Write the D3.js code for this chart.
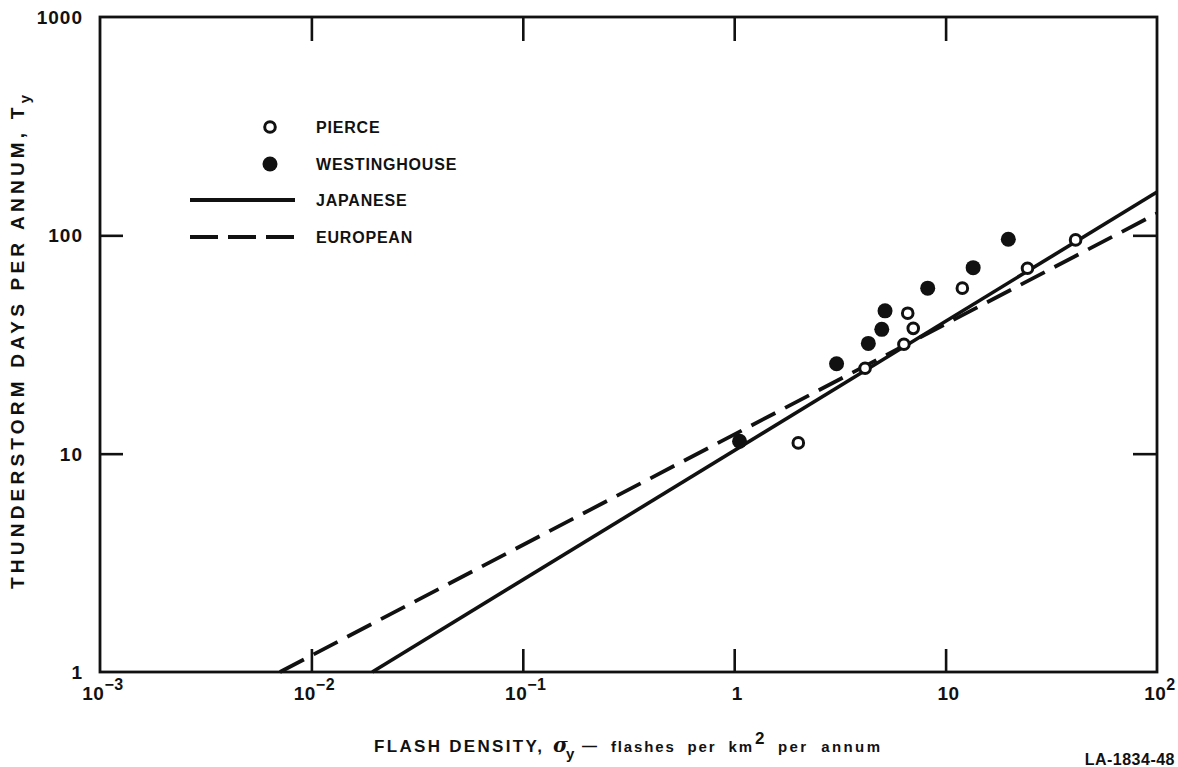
<!DOCTYPE html>
<html><head><meta charset="utf-8">
<script src="https://cdn.jsdelivr.net/npm/d3@7"></script>
<style>
html,body{margin:0;padding:0;background:#fff;}
svg{display:block;}
text{font-family:"Liberation Sans",Arial,Helvetica,sans-serif;font-weight:bold;fill:#111;}
</style></head>
<body>
<svg id="chart" width="1178" height="767"></svg>
<script>
// ---- data ----
const xTickValues = [1e-3, 1e-2, 1e-1, 1, 10, 100];
const xTickBase = ["10", "10", "10", "1", "10", "10"];
const xTickExp = ["\u22123", "\u22122", "\u22121", "", "", "2"];
const yTickValues = [1, 10, 100, 1000];
const yTickLabels = ["1", "10", "100", "1000"];
const innerXTicks = [1e-2, 1e-1, 1, 10];
const innerYTicks = [10, 100];

const pierceSigma = [4.16, 6.35, 7.03, 6.62, 12.0, 24.4, 41.2, 2.01];
const pierceT     = [24.6, 31.7, 37.5, 44.0, 57.3, 70.7, 95.3, 11.2];
const westSigma   = [3.05, 4.31, 4.99, 5.17, 8.23, 13.5, 19.8, 1.06];
const westT       = [25.8, 32.0, 37.1, 45.1, 57.3, 71.1, 95.9, 11.4];

const japaneseSigma = [0.0194, 100];
const japaneseT     = [1, 158];
const europeanSigma = [0.0071, 100];
const europeanT     = [1, 126];

const legendLabels = ["PIERCE", "WESTINGHOUSE", "JAPANESE", "EUROPEAN"];

// ---- layout ----
const svg = d3.select("#chart");
const L = 100, R = 1157, T = 17, B = 672;
const x = d3.scaleLog().domain([1e-3, 1e2]).range([L, R]);
const y = d3.scaleLog().domain([1, 1000]).range([B, T]);
const ink = "#111";

// lines
const line = d3.line().x(d => x(d[0])).y(d => y(d[1]));
const jap = japaneseSigma.map((s, i) => [s, japaneseT[i]]);
const eur = europeanSigma.map((s, i) => [s, europeanT[i]]);

const plot = svg.append("g");
plot.append("path").attr("d", line(eur)).attr("fill", "none")
  .attr("stroke", ink).attr("stroke-width", 3.8).attr("stroke-dasharray", "27,11");
plot.append("path").attr("d", line(jap)).attr("fill", "none")
  .attr("stroke", ink).attr("stroke-width", 3.6);

// points
plot.selectAll("circle.w").data(westSigma.map((s, i) => [s, westT[i]])).join("circle")
  .attr("class", "w").attr("cx", d => x(d[0])).attr("cy", d => y(d[1])).attr("r", 7.5)
  .attr("fill", ink);
plot.selectAll("circle.p").data(pierceSigma.map((s, i) => [s, pierceT[i]])).join("circle")
  .attr("class", "p").attr("cx", d => x(d[0])).attr("cy", d => y(d[1])).attr("r", 5.3)
  .attr("fill", "#fff").attr("stroke", ink).attr("stroke-width", 3);

// frame
svg.append("rect").attr("x", L).attr("y", T).attr("width", R - L).attr("height", B - T)
  .attr("fill", "none").attr("stroke", ink).attr("stroke-width", 2.8);

// ticks via axes
function styleAxis(g) {
  g.select(".domain").remove();
  g.selectAll("text").remove();
  g.selectAll("line").attr("stroke", ink).attr("stroke-width", 2.6);
}
svg.append("g").attr("transform", `translate(0,${B})`)
  .call(d3.axisBottom(x).tickValues(innerXTicks).tickSize(-23).tickFormat("")).call(styleAxis);
svg.append("g").attr("transform", `translate(0,${T})`)
  .call(d3.axisTop(x).tickValues(innerXTicks).tickSize(-24).tickFormat("")).call(styleAxis);
svg.append("g").attr("transform", `translate(${L},0)`)
  .call(d3.axisLeft(y).tickValues(innerYTicks).tickSize(-23).tickFormat("")).call(styleAxis);
svg.append("g").attr("transform", `translate(${R},0)`)
  .call(d3.axisRight(y).tickValues(innerYTicks).tickSize(-24).tickFormat("")).call(styleAxis);

// x tick labels
xTickValues.forEach((v, i) => {
  const t = svg.append("text").attr("x", x(v) + 3).attr("y", 700)
    .attr("text-anchor", "middle").style("font-size", "19px").style("letter-spacing", "0.5px");
  t.append("tspan").text(xTickBase[i]);
  if (xTickExp[i]) t.append("tspan").attr("dy", -10).style("font-size", "16px").text(xTickExp[i]);
});

// y tick labels
yTickValues.forEach((v, i) => {
  svg.append("text").attr("x", 83).attr("y", y(v) + 7)
    .attr("text-anchor", "end").style("font-size", "19px").style("letter-spacing", "1px").text(yTickLabels[i]);
});

// y axis title
const yt = svg.append("text").attr("transform", "translate(24,342) rotate(-90)")
  .attr("text-anchor", "middle").style("font-size", "19px")
  .attr("textLength", 494).attr("lengthAdjust", "spacing");
yt.append("tspan").text("THUNDERSTORM DAYS PER ANNUM, T");
yt.append("tspan").attr("dy", 6).style("font-size", "15px").text("y");

// x axis title (pieces)
const xg = svg.append("g");
xg.append("text").attr("x", 374).attr("y", 752).style("font-size", "17px")
  .attr("textLength", 168).attr("lengthAdjust", "spacing").text("FLASH DENSITY,");
xg.append("text").attr("x", 553).attr("y", 752).style("font-size", "20px")
  .style("font-style", "italic").style("font-family", "'DejaVu Serif',serif").text("\u03c3");
xg.append("text").attr("x", 566).attr("y", 759).style("font-size", "15px").text("y");
xg.append("text").attr("x", 582).attr("y", 751).style("font-size", "15px").text("\u2014");
xg.append("text").attr("x", 611).attr("y", 752).style("font-size", "15px")
  .attr("textLength", 141).attr("lengthAdjust", "spacing").style("word-spacing", "6px").text("flashes per km");
xg.append("text").attr("x", 755).attr("y", 744).style("font-size", "17px").text("2");
xg.append("text").attr("x", 778).attr("y", 752).style("font-size", "15px")
  .attr("textLength", 102).attr("lengthAdjust", "spacing").style("word-spacing", "6px").text("per annum");

// figure id
svg.append("text").attr("x", 1175).attr("y", 765).attr("text-anchor", "end")
  .style("font-size", "16px").style("letter-spacing", "0.5px").text("LA-1834-48");

// legend
const lg = svg.append("g");
const rowsY = [127, 164, 200, 237];
lg.append("circle").attr("cx", 270).attr("cy", rowsY[0]).attr("r", 5.3)
  .attr("fill", "#fff").attr("stroke", ink).attr("stroke-width", 3);
lg.append("circle").attr("cx", 270).attr("cy", rowsY[1]).attr("r", 7.5).attr("fill", ink);
lg.append("line").attr("x1", 190).attr("x2", 295).attr("y1", rowsY[2]).attr("y2", rowsY[2])
  .attr("stroke", ink).attr("stroke-width", 3.8);
lg.append("line").attr("x1", 190).attr("x2", 295).attr("y1", rowsY[3]).attr("y2", rowsY[3])
  .attr("stroke", ink).attr("stroke-width", 3.8).attr("stroke-dasharray", "28,10");
legendLabels.forEach((s, i) => {
  lg.append("text").attr("x", 316).attr("y", rowsY[i] + 6).style("font-size", "16px")
    .style("letter-spacing", "0.8px").text(s);
});
</script>
</body></html>
